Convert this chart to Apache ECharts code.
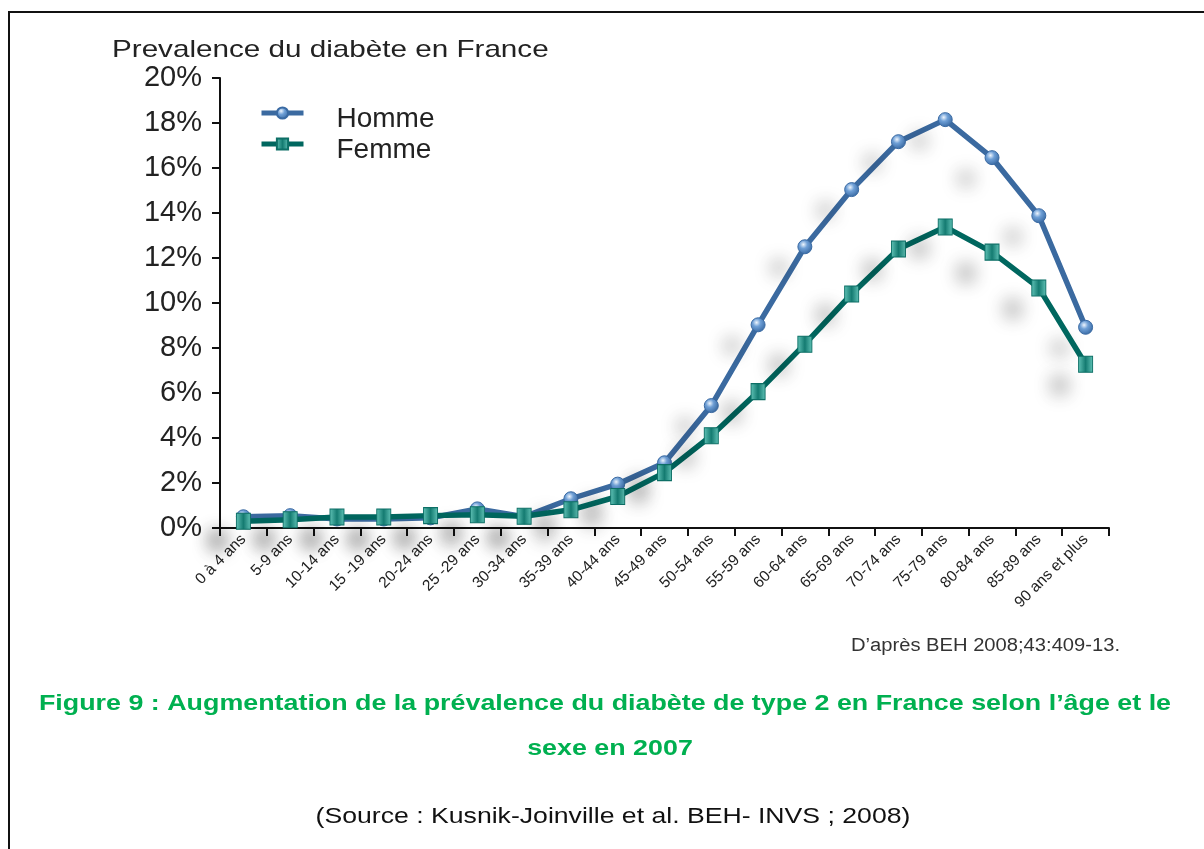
<!DOCTYPE html>
<html>
<head>
<meta charset="utf-8">
<script src="https://cdn.jsdelivr.net/npm/echarts@6/dist/echarts.min.js"></script>
<style>
  html, body { margin: 0; padding: 0; background: #fff; }
  #chart { width: 1204px; height: 849px; }
</style>
</head>
<body>
<div id="chart"></div>
<script>
// tranches d'age
var categories = ['0 à 4 ans', '5-9 ans', '10-14 ans', '15 -19 ans', '20-24 ans', '25 -29 ans',
  '30-34 ans', '35-39 ans', '40-44 ans', '45-49 ans', '50-54 ans', '55-59 ans', '60-64 ans',
  '65-69 ans', '70-74 ans', '75-79 ans', '80-84 ans', '85-89 ans', '90 ans et plus']

// prevalence en %
var homme = [0.5, 0.55, 0.4, 0.4, 0.45, 0.85, 0.5, 1.3, 1.95, 2.9, 5.44, 9.03, 12.5, 15.04, 17.17, 18.15, 16.46, 13.88, 8.92]
var femme = [0.3, 0.37, 0.49, 0.49, 0.55, 0.59, 0.52, 0.81, 1.4, 2.46, 4.1, 6.06, 8.17, 10.4, 12.4, 13.38, 12.26, 10.67, 7.28]

var yTicks = [0, 2, 4, 6, 8, 10, 12, 14, 16, 18, 20]

var FONT = '"Liberation Sans", Arial, sans-serif'

var markShadow = {
  shadowColor: 'rgba(0,0,0,0.32)',
  shadowBlur: 18,
  shadowOffsetX: -26,
  shadowOffsetY: 21
}

// texte de legende un peu plus bas que le symbole
var legendText = {
  fontSize: 28, fontFamily: FONT, color: '#222',
  rich: { a: { fontSize: 28, fontFamily: FONT, color: '#222', padding: [12, 0, 0, 28], verticalAlign: 'bottom' } }
}

var chart = echarts.init(document.getElementById('chart'))

var option = {
  backgroundColor: '#fff',
  animation: false,
  grid: { left: 220, right: 95, top: 78, bottom: 321 },
  legend: [
    {
      data: ['Homme'], left: 254, top: 100, itemWidth: 42, itemHeight: 14,
      formatter: '{a|{name}}', lineStyle: { width: 5 }, textStyle: legendText
    },
    {
      data: ['Femme'], left: 254, top: 131, itemWidth: 42, itemHeight: 14,
      formatter: '{a|{name}}', lineStyle: { width: 5 }, textStyle: legendText
    }
  ],
  xAxis: {
    type: 'category',
    data: categories,
    boundaryGap: true,
    axisLine: { lineStyle: { color: '#111', width: 2 } },
    axisTick: { show: true, length: 8, lineStyle: { color: '#111', width: 2 } },
    axisLabel: { rotate: 45, fontSize: 15.5, fontFamily: FONT, color: '#222', margin: 9, interval: 0 }
  },
  yAxis: {
    type: 'value',
    min: yTicks[0],
    max: yTicks[yTicks.length - 1],
    interval: 2,
    splitLine: { show: false },
    axisLine: { show: true, lineStyle: { color: '#111', width: 2 } },
    axisTick: { show: true, length: 8, lineStyle: { color: '#111', width: 2 } },
    axisLabel: { formatter: '{value}%', fontSize: 29, fontFamily: FONT, color: '#222', margin: 18, padding: [6, 0, 0, 0] }
  },
  series: [
    {
      name: 'Homme',
      type: 'line',
      data: homme,
      symbol: 'circle',
      symbolSize: 14,
      showAllSymbol: true,
      lineStyle: { color: '#3b6aa0', width: 5.5 },
      itemStyle: Object.assign({
        color: {
          type: 'radial', x: 0.4, y: 0.35, r: 0.75,
          colorStops: [
            { offset: 0, color: '#eef5fd' },
            { offset: 0.35, color: '#6fa0d7' },
            { offset: 1, color: '#2c5d97' }
          ]
        },
        borderColor: '#3a6aa3',
        borderWidth: 1
      }, markShadow),
      emphasis: { disabled: true },
      z: 2
    },
    {
      name: 'Femme',
      type: 'line',
      data: femme,
      symbol: 'rect',
      symbolSize: [14, 16],
      showAllSymbol: true,
      lineStyle: { color: '#00675f', width: 5.5 },
      itemStyle: Object.assign({
        color: {
          type: 'linear', x: 0, y: 0, x2: 1, y2: 0,
          colorStops: [
            { offset: 0, color: '#62c4b8' },
            { offset: 0.5, color: '#147b71' },
            { offset: 1, color: '#62c4b8' }
          ]
        },
        borderColor: '#0d6f66',
        borderWidth: 1
      }, markShadow),
      emphasis: { disabled: true },
      z: 3
    }
  ],
  graphic: [
    // cadre
    { type: 'line', shape: { x1: 8, y1: 12, x2: 1204, y2: 12 }, style: { stroke: '#111', lineWidth: 2 } },
    { type: 'line', shape: { x1: 9, y1: 12, x2: 9, y2: 849 }, style: { stroke: '#111', lineWidth: 2 } },
    {
      type: 'text', x: 112, y: 50, scaleX: 1.235,
      style: { text: 'Prevalence du diabète en France', fontSize: 24, fontFamily: FONT, fill: '#222', verticalAlign: 'middle' }
    },
    {
      type: 'text', x: 1120, y: 646, scaleX: 1.12,
      style: { text: 'D\u2019après BEH 2008;43:409-13.', fontSize: 18, fontFamily: FONT, fill: '#333', align: 'right', verticalAlign: 'middle' }
    },
    {
      type: 'text', x: 605, y: 704, scaleX: 1.22,
      style: {
        text: 'Figure 9 : Augmentation de la prévalence du diabète de type 2 en France selon l\u2019âge et le',
        fontSize: 22, fontWeight: 'bold', fontFamily: FONT, fill: '#00b050', align: 'center', verticalAlign: 'middle'
      }
    },
    {
      type: 'text', x: 610, y: 749, scaleX: 1.22,
      style: { text: 'sexe en 2007', fontSize: 22, fontWeight: 'bold', fontFamily: FONT, fill: '#00b050', align: 'center', verticalAlign: 'middle' }
    },
    {
      type: 'text', x: 613, y: 817, scaleX: 1.21,
      style: { text: '(Source : Kusnik-Joinville et al. BEH- INVS ; 2008)', fontSize: 22, fontFamily: FONT, fill: '#111', align: 'center', verticalAlign: 'middle' }
    }
  ]
}

chart.setOption(option)
</script>
</body>
</html>
